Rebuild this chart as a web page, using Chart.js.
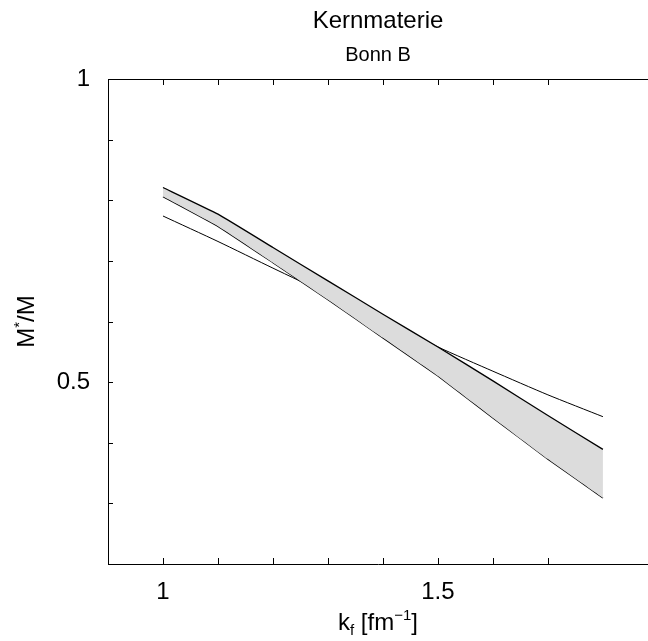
<!DOCTYPE html>
<html>
<head>
<meta charset="utf-8">
<script src="https://cdn.jsdelivr.net/npm/chart.js@4/dist/chart.umd.min.js"></script>
<style>
  body { margin: 0; background: #fff; }
  #wrap { width: 648px; height: 641px; }
</style>
</head>
<body>
<div id="wrap"><canvas id="chart" width="648" height="641"></canvas></div>
<script>
// k_f values (fm^-1)
const kf = [1.0, 1.1, 1.2, 1.3, 1.4, 1.5, 1.6, 1.7, 1.8];
// band edges and thin curve, M*/M
const bandUpper = [0.821, 0.777, 0.722, 0.667, 0.612, 0.558, 0.502, 0.445, 0.389];
const bandLower = [0.806, 0.757, 0.697, 0.636, 0.573, 0.510, 0.441, 0.373, 0.309];
const thinCurve = [0.774, 0.732, 0.688, 0.645, 0.604, 0.558, 0.518, 0.479, 0.443];

const xLabels = { '1': '1', '1.5': '1.5' };
const yLabels = { '0.5': '0.5', '1': '1' };

const FONT = "'Liberation Sans', Arial, sans-serif";

function pts(ys) {
  return kf.map((x, i) => ({ x: x, y: ys[i] }));
}

function labelFor(map, v) {
  const key = String(Math.round(v * 100) / 100);
  return map[key] || '';
}

// draws text made of runs (normal / sub / sup), centred on x
function richText(ctx, runs, x, y) {
  let total = 0;
  runs.forEach(r => {
    ctx.font = r.size + 'px ' + FONT;
    r.w = ctx.measureText(r.t).width;
    total += r.w;
  });
  let cx = x - total / 2;
  runs.forEach(r => {
    ctx.font = r.size + 'px ' + FONT;
    ctx.fillText(r.t, cx, y + (r.dy || 0));
    cx += r.w;
  });
}

const frame = {
  id: 'frame',
  afterDraw(chart) {
    const ctx = chart.ctx;
    const a = chart.chartArea;
    const xs = chart.scales.x, ys = chart.scales.y;
    ctx.save();
    ctx.strokeStyle = '#000';
    ctx.lineWidth = 1;
    ctx.beginPath();
    // top line
    ctx.moveTo(a.left, a.top + 0.5);
    ctx.lineTo(a.right, a.top + 0.5);
    // inner ticks
    xs.ticks.forEach(t => {
      const v = t.value;
      if (Math.abs(v * 10 - Math.round(v * 10)) > 1e-6) return;
      if (v < 0.95 || v > 1.85) return;
      const px = Math.round(xs.getPixelForValue(v)) + 0.5;
      ctx.moveTo(px, a.bottom);
      ctx.lineTo(px, a.bottom - 6);
      ctx.moveTo(px, a.top);
      ctx.lineTo(px, a.top + 6);
    });
    ys.ticks.forEach(t => {
      const v = t.value;
      if (v < 0.25 || v > 0.95) return;
      const py = Math.round(ys.getPixelForValue(v)) + 0.5;
      ctx.moveTo(a.left, py);
      ctx.lineTo(a.left + 5, py);
    });
    ctx.stroke();

    ctx.fillStyle = '#000';
    ctx.textBaseline = 'alphabetic';
    const cx = (a.left + a.right) / 2;
    ctx.textAlign = 'left';
    richText(ctx, [{ t: 'Kernmaterie', size: 24 }], cx, 28);
    richText(ctx, [{ t: 'Bonn B', size: 20 }], cx, 61);

    // x title
    richText(ctx, [
      { t: 'k', size: 24 },
      { t: 'f', size: 15, dy: 5 },
      { t: ' [fm', size: 24 },
      { t: '\u22121', size: 15, dy: -10 },
      { t: ']', size: 24 }
    ], cx, 630);

    // y title
    ctx.translate(34, (a.top + a.bottom) / 2);
    ctx.rotate(-Math.PI / 2);
    richText(ctx, [
      { t: 'M', size: 24 },
      { t: '*', size: 15, dy: -10 },
      { t: '/M', size: 24 }
    ], 0, 0);
    ctx.restore();
  }
};

new Chart(document.getElementById('chart'), {
  type: 'line',
  data: {
    datasets: [
      {
        data: pts(bandUpper),
        borderColor: '#000',
        borderWidth: 1.3,
        backgroundColor: '#dcdcdc',
        fill: '+1',
        pointRadius: 0,
        tension: 0.1
      },
      {
        data: pts(bandLower),
        borderColor: '#000',
        borderWidth: 1.3,
        fill: false,
        pointRadius: 0,
        tension: 0.1
      },
      {
        data: pts(thinCurve),
        borderColor: '#000',
        borderWidth: 1,
        fill: false,
        pointRadius: 0,
        tension: 0.2
      }
    ]
  },
  options: {
    responsive: false,
    animation: false,
    layout: { padding: { top: 79, right: 0, left: 0, bottom: 0 } },
    plugins: {
      legend: { display: false },
      tooltip: { enabled: false }
    },
    scales: {
      x: {
        type: 'linear',
        min: 0.9,
        max: 1.882,
        grid: { display: false, drawTicks: false },
        border: { display: true, color: '#000', width: 1 },
        ticks: {
          stepSize: 0.1,
          autoSkip: false,
          maxRotation: 0,
          padding: 14,
          color: '#000',
          font: { family: FONT, size: 24 },
          callback: v => labelFor(xLabels, v)
        },
        afterFit(s) {
          s.height = 77;
          s.paddingLeft = 0;
          s.paddingRight = 0;
        }
      },
      y: {
        min: 0.2,
        max: 1.0,
        grid: { display: false, drawTicks: false },
        border: { display: true, color: '#000', width: 1 },
        ticks: {
          stepSize: 0.1,
          autoSkip: false,
          padding: 18,
          color: '#000',
          font: { family: FONT, size: 24 },
          callback: v => labelFor(yLabels, v)
        },
        afterFit(s) { s.width = 108; }
      }
    }
  },
  plugins: [frame]
});
</script>
</body>
</html>
